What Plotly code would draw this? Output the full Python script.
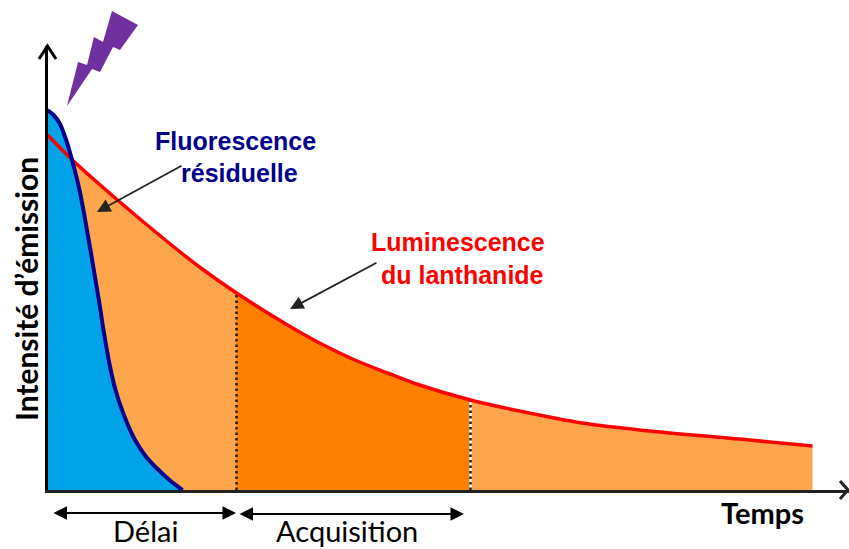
import plotly.graph_objects as go

# ---- data (time, intensity in arbitrary units) ----
lanthanide_t = [0, 27, 70, 119, 152, 189, 240, 272, 305, 340, 372, 423, 472, 535, 602, 702, 765]
lanthanide_i = [355, 328, 290, 249, 223, 197, 165, 147, 131, 117, 105, 90, 79, 67, 59, 50, 44]
fluo_t = [0, 6, 12, 18, 24, 32, 40, 47, 52, 56, 62, 68, 76, 87, 98, 109, 122, 135]
fluo_i = [380, 375, 367, 352, 332, 300, 257, 216, 186, 160, 126, 100, 76, 51, 34, 22, 10, 0]
delay_end = 189
acq_end = 423

W, H = 849, 549
def px(x): return x / W
def py(y): return 1 - y / H
def path(points, close=True):
    s = "M" + " L".join(f"{px(a):.4f},{py(b):.4f}" for a, b in points)
    return s + (" Z" if close else "")

seg = [k for k, t in enumerate(lanthanide_t) if delay_end <= t <= acq_end]
seg_t = [lanthanide_t[k] for k in seg]
seg_i = [lanthanide_i[k] for k in seg]
delay_i = lanthanide_i[lanthanide_t.index(delay_end)]
acq_i = lanthanide_i[lanthanide_t.index(acq_end)]

fig = go.Figure()
common = dict(mode="lines", hoverinfo="skip", showlegend=False)
sm = 1.0
fig.add_trace(go.Scatter(x=lanthanide_t, y=lanthanide_i, fill="tozeroy", fillcolor="#FFA64D",
                         line=dict(width=0, shape="spline", smoothing=sm), **common))
fig.add_trace(go.Scatter(x=seg_t, y=seg_i, fill="tozeroy", fillcolor="#FF8000",
                         line=dict(width=0, shape="spline", smoothing=sm), **common))
fig.add_trace(go.Scatter(x=fluo_t, y=fluo_i, fill="tozeroy", fillcolor="#00A2E8",
                         line=dict(width=0, shape="spline", smoothing=sm), **common))
fig.add_trace(go.Scatter(x=[acq_end, acq_end], y=[0, acq_i], line=dict(color="white", width=2.5), **common))
fig.add_trace(go.Scatter(x=[delay_end, delay_end], y=[0, delay_i], line=dict(color="#1a1a1a", width=2.5, dash="2.5px,3px"), **common))
fig.add_trace(go.Scatter(x=[acq_end, acq_end], y=[0, acq_i], line=dict(color="#1a1a1a", width=2.5, dash="2.5px,3px"), **common))
fig.add_trace(go.Scatter(x=lanthanide_t, y=lanthanide_i, line=dict(color="#FF0000", width=3.5, shape="spline", smoothing=sm), **common))
fig.add_trace(go.Scatter(x=fluo_t, y=fluo_i, line=dict(color="#00008B", width=4, shape="spline", smoothing=sm), **common))

bolt = [(112, 11), (138, 25), (120, 50), (113, 47), (100, 72), (92, 69), (67, 106), (78, 62), (87, 65), (94, 37), (103, 42)]
shapes = [
    dict(type="path", xref="paper", yref="paper", path=path(bolt), fillcolor="#7030A0", line=dict(width=0)),
    dict(type="path", xref="paper", yref="paper", path=path([(39, 59), (47.5, 46), (56, 59)], False),
         line=dict(color="black", width=3)),
    dict(type="path", xref="paper", yref="paper", path=path([(840, 481), (848, 490), (840, 499)], False),
         line=dict(color="#222222", width=3)),
]

def label(text, x, y, size, color="black", family="Lato", angle=0):
    return dict(text=text, x=px(x), y=py(y), xref="paper", yref="paper", showarrow=False,
                xanchor="center", yanchor="middle", textangle=angle,
                font=dict(family=family, size=size, color=color))

def arrow(x0, y0, x1, y1, side="end", color="black", width=1.8, head=2, size=1.5):
    return dict(x=px(x1), y=py(y1), ax=x0 - x1, ay=y0 - y1, xref="paper", yref="paper",
                axref="pixel", ayref="pixel", text="", showarrow=True, arrowside=side,
                arrowhead=head, arrowsize=size, arrowwidth=width, arrowcolor=color,
                startarrowhead=head, startarrowsize=size, standoff=0, startstandoff=0)

annotations = [
    label("<b>Intensité d’émission</b>", 26, 289, 30, angle=-90),
    label("<b>Temps</b>", 762, 512, 29),
    label("Délai", 145, 530, 29),
    label("Acquisition", 347, 530, 29),
    label("<b>Fluorescence</b>", 236, 141, 25, "#00008B", "Liberation Sans"),
    label("<b>résiduelle</b>", 239, 173, 25, "#00008B", "Liberation Sans"),
    label("<b>Luminescence</b>", 458, 242, 25, "#FF0000", "Liberation Sans"),
    label("<b>du lanthanide</b>", 462, 275, 25, "#FF0000", "Liberation Sans"),
    arrow(183, 165, 97, 212, color="#222222"),
    arrow(378, 262, 290, 309, color="#222222"),
    arrow(52, 513, 236, 513, side="end+start"),
    arrow(238, 514, 464, 514, side="end+start"),
]

fig.update_layout(
    width=W, height=H, margin=dict(l=0, r=0, t=0, b=0),
    paper_bgcolor="white", plot_bgcolor="white", showlegend=False,
    xaxis=dict(domain=[47.5 / W, 1], range=[0, 801.5], showgrid=False, zeroline=False, showticklabels=False,
               ticks="", showline=True, linecolor="#222222", linewidth=3),
    yaxis=dict(domain=[(H - 490) / H, (H - 46) / H], range=[0, 444], showgrid=False, zeroline=False,
               showticklabels=False, ticks="", showline=True, linecolor="black", linewidth=3),
    shapes=shapes, annotations=annotations,
)
fig.write_html("out.html", config=dict(displayModeBar=False),
               post_script="document.body.style.margin='0';document.body.style.overflow='hidden';")
